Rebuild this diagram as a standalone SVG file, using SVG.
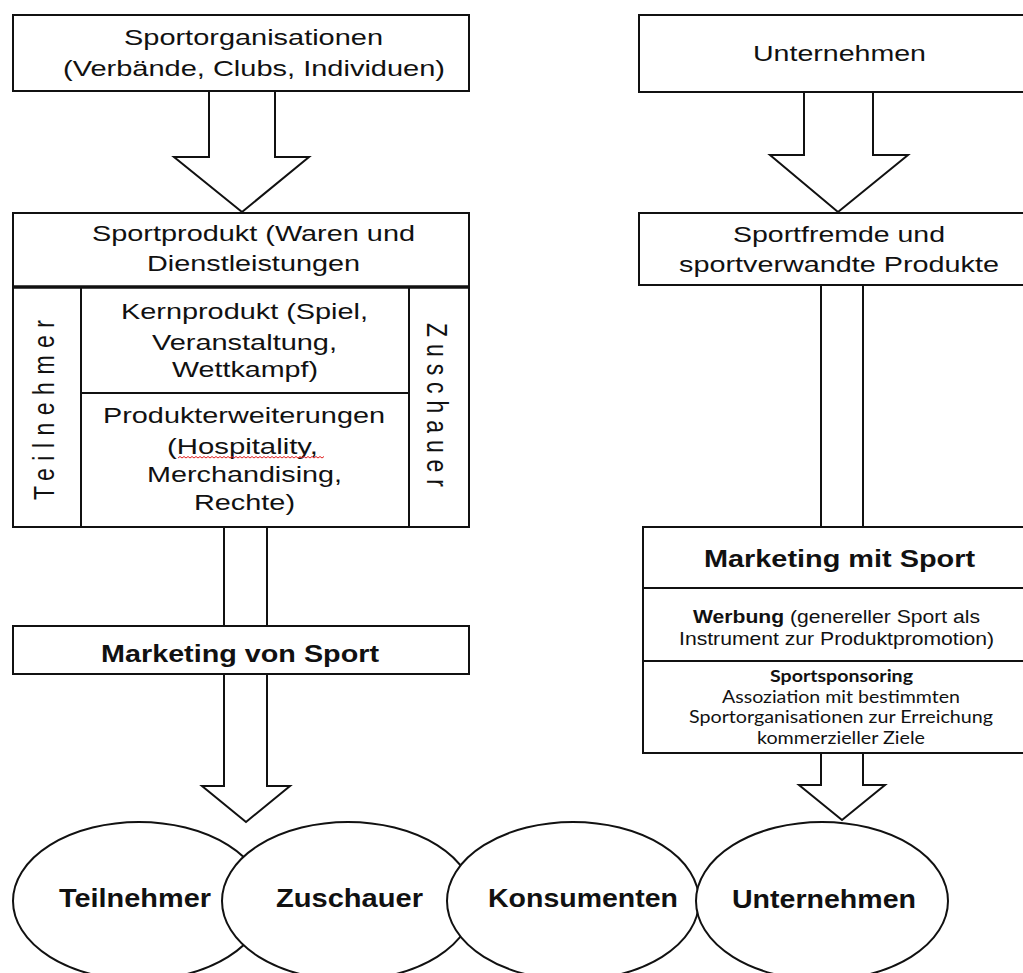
<svg xmlns="http://www.w3.org/2000/svg" width="1023" height="973" viewBox="0 0 1023 973">
  <style>
    .box { fill: #ffffff; stroke: #111111; stroke-width: 2; }
    .rule { stroke: #111111; stroke-width: 2; fill: none; }
    .arrow { fill: #ffffff; stroke: #111111; stroke-width: 2; stroke-linejoin: miter; }
    .ell { fill: #ffffff; stroke: #111111; stroke-width: 2; }
    .t { font-family: "Liberation Sans", Arial, sans-serif; font-size: 22px; fill: #111111; }
    .b { font-family: "Liberation Sans", Arial, sans-serif; font-weight: bold; fill: #111111; }
    .s { font-family: "Liberation Sans", Arial, sans-serif; font-size: 18px; fill: #111111; }
    .c { font-family: Lato, "Open Sans", sans-serif; font-size: 17px; fill: #111111; }
    .v { font-family: "Liberation Sans", Arial, sans-serif; font-size: 23px; fill: #111111; }
  </style>
  <rect width="1023" height="973" fill="#ffffff"/>

  <!-- block arrows (drawn first, boxes sit on top of the shafts) -->
  <g id="connectors">
    <polygon class="arrow" points="209,91 275,91 275,157 309,157 242,212 174,157 209,157"/>
    <polygon class="arrow" points="804,92 873,92 873,155 908,155 838,212 770,155 804,155"/>
    <polygon class="arrow" points="224,527 267,527 267,786 290,786 246,822 202,786 224,786"/>
    <polygon class="arrow" points="821,285 863,285 863,785 885,785 842,820 799,785 821,785"/>
  </g>

  <g id="sportorganisationen">
    <rect class="box" x="13" y="15" width="456" height="76"/>
    <text class="t" x="124" y="45" textLength="259" lengthAdjust="spacingAndGlyphs">Sportorganisationen</text>
    <text class="t" x="63" y="76" textLength="382" lengthAdjust="spacingAndGlyphs">(Verbände, Clubs, Individuen)</text>
  </g>

  <g id="unternehmen-top">
    <rect class="box" x="639" y="15" width="395" height="77"/>
    <text class="t" x="753" y="61" textLength="173" lengthAdjust="spacingAndGlyphs">Unternehmen</text>
  </g>

  <g id="sportprodukt">
    <rect class="box" x="13" y="213" width="456" height="74"/>
    <text class="t" x="92" y="241" textLength="323" lengthAdjust="spacingAndGlyphs">Sportprodukt (Waren und</text>
    <text class="t" x="147" y="271" textLength="213" lengthAdjust="spacingAndGlyphs">Dienstleistungen</text>
  </g>

  <g id="produkt-tabelle">
    <rect class="box" x="13" y="287" width="456" height="240"/>
    <line class="rule" x1="13" y1="287" x2="469" y2="287" style="stroke-width:3.5"/>
    <line class="rule" x1="81" y1="287" x2="81" y2="527"/>
    <line class="rule" x1="409" y1="287" x2="409" y2="527"/>
    <line class="rule" x1="81" y1="393" x2="409" y2="393"/>
    <text class="v" transform="translate(54,500) rotate(-90) scale(1,1.31)" textLength="180" lengthAdjust="spacing">Teilnehmer</text>
    <text class="v" transform="translate(427,323) rotate(90) scale(1,1.31)" textLength="164" lengthAdjust="spacing">Zuschauer</text>
    <text class="t" x="121" y="319" textLength="247" lengthAdjust="spacingAndGlyphs">Kernprodukt (Spiel,</text>
    <text class="t" x="152" y="350" textLength="185" lengthAdjust="spacingAndGlyphs">Veranstaltung,</text>
    <text class="t" x="172" y="377" textLength="146" lengthAdjust="spacingAndGlyphs">Wettkampf)</text>
    <text class="t" x="103" y="423" textLength="282" lengthAdjust="spacingAndGlyphs">Produkterweiterungen</text>
    <text class="t" x="167" y="454" textLength="151" lengthAdjust="spacingAndGlyphs">(Hospitality,</text>
    <!-- spell-check squiggle under "Hospitality" -->
    <path d="M178,458 l2,-1.5 l2,1.5 l2,-1.5 l2,1.5 l2,-1.5 l2,1.5 l2,-1.5 l2,1.5 l2,-1.5 l2,1.5 l2,-1.5 l2,1.5 l2,-1.5 l2,1.5 l2,-1.5 l2,1.5 l2,-1.5 l2,1.5 l2,-1.5 l2,1.5 l2,-1.5 l2,1.5 l2,-1.5 l2,1.5 l2,-1.5 l2,1.5 l2,-1.5 l2,1.5 l2,-1.5 l2,1.5 l2,-1.5 l2,1.5 l2,-1.5 l2,1.5 l2,-1.5 l2,1.5 l2,-1.5 l2,1.5 l2,-1.5 l2,1.5 l2,-1.5 l2,1.5 l2,-1.5 l2,1.5 l2,-1.5 l2,1.5 l2,-1.5 l2,1.5 l2,-1.5 l2,1.5 l2,-1.5 l2,1.5 l2,-1.5 l2,1.5 l2,-1.5 l2,1.5 l2,-1.5 l2,1.5 l2,-1.5 l2,1.5 l2,-1.5 l2,1.5 l2,-1.5 l2,1.5 l2,-1.5 l2,1.5 l2,-1.5 l2,1.5 l2,-1.5 l2,1.5 l2,-1.5 l2,1.5 l2,-1.5" fill="none" stroke="#e02020" stroke-width="1"/>
    <text class="t" x="147" y="482" textLength="195" lengthAdjust="spacingAndGlyphs">Merchandising,</text>
    <text class="t" x="194" y="510" textLength="101" lengthAdjust="spacingAndGlyphs">Rechte)</text>
  </g>

  <g id="sportfremde-produkte">
    <rect class="box" x="639" y="213" width="395" height="72"/>
    <text class="t" x="733" y="242" textLength="212" lengthAdjust="spacingAndGlyphs">Sportfremde und</text>
    <text class="t" x="679" y="272" textLength="320" lengthAdjust="spacingAndGlyphs">sportverwandte Produkte</text>
  </g>

  <g id="marketing-von-sport">
    <rect class="box" x="13" y="626" width="456" height="48"/>
    <text class="b" x="101" y="662" font-size="23" textLength="278" lengthAdjust="spacingAndGlyphs">Marketing von Sport</text>
  </g>

  <g id="marketing-mit-sport">
    <rect class="box" x="643" y="527" width="391" height="226"/>
    <line class="rule" x1="643" y1="588" x2="1034" y2="588"/>
    <line class="rule" x1="643" y1="661" x2="1034" y2="661"/>
    <text class="b" x="704" y="567" font-size="23" textLength="271" lengthAdjust="spacingAndGlyphs">Marketing mit Sport</text>
    <text class="s" x="693" y="623" textLength="287" lengthAdjust="spacingAndGlyphs"><tspan font-weight="bold">Werbung</tspan> (genereller Sport als</text>
    <text class="s" x="679" y="645" textLength="315" lengthAdjust="spacingAndGlyphs">Instrument zur Produktpromotion)</text>
    <text class="c" x="770" y="682" font-weight="bold" textLength="143" lengthAdjust="spacingAndGlyphs">Sportsponsoring</text>
    <text class="c" x="722" y="703" textLength="238" lengthAdjust="spacingAndGlyphs">Assoziation mit bestimmten</text>
    <text class="c" x="689" y="723" textLength="304" lengthAdjust="spacingAndGlyphs">Sportorganisationen zur Erreichung</text>
    <text class="c" x="757" y="744" textLength="168" lengthAdjust="spacingAndGlyphs">kommerzieller Ziele</text>
  </g>

  <g id="teilnehmer">
    <ellipse class="ell" cx="139" cy="901" rx="126" ry="79"/>
    <text class="b" x="59" y="907" font-size="25" textLength="152" lengthAdjust="spacingAndGlyphs">Teilnehmer</text>
  </g>
  <g id="zuschauer">
    <ellipse class="ell" cx="348" cy="901" rx="126" ry="79"/>
    <text class="b" x="276" y="907" font-size="25" textLength="147" lengthAdjust="spacingAndGlyphs">Zuschauer</text>
  </g>
  <g id="konsumenten">
    <ellipse class="ell" cx="573" cy="901" rx="126" ry="79"/>
    <text class="b" x="488" y="907" font-size="25" textLength="190" lengthAdjust="spacingAndGlyphs">Konsumenten</text>
  </g>
  <g id="unternehmen">
    <ellipse class="ell" cx="822" cy="901" rx="126" ry="79"/>
    <text class="b" x="732" y="908" font-size="25" textLength="184" lengthAdjust="spacingAndGlyphs">Unternehmen</text>
  </g>
</svg>
